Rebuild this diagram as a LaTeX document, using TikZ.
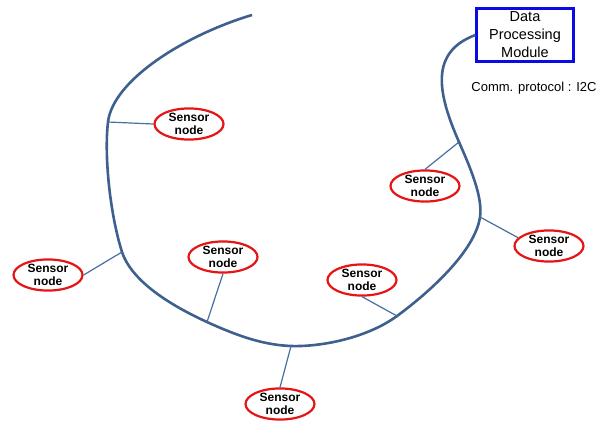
\documentclass[tikz,border=0pt]{standalone}
\usepackage{fontspec}
\setmainfont{Liberation Sans}
\usepackage{tikz}
\usetikzlibrary{shapes.geometric}

\definecolor{busblue}{RGB}{62,96,142}
\definecolor{tapblue}{RGB}{72,110,160}
\definecolor{boxblue}{RGB}{10,10,230}
\definecolor{nodered}{RGB}{230,20,20}

\tikzset{
	sensor/.style={ellipse,draw=nodered,line width=2.2pt,minimum width=69pt,minimum height=31pt,inner sep=0pt,font=\fontsize{12}{13.5}\selectfont\bfseries,align=center},
	tap/.style={draw=tapblue,line width=1.2pt},
	bus/.style={draw=busblue,line width=2.6pt}
}

\begin{document}
\begin{tikzpicture}[x=1pt,y=-1pt]
	\useasboundingbox (0,0) rectangle (612,423);

	%the module
	\node[draw=boxblue,line width=2.2pt,minimum width=97pt,minimum height=53pt,inner sep=0pt,align=center,font=\fontsize{14.5}{18}\selectfont] (dpm) at (525,35) {Data\\Processing\\Module};
	\node[font=\fontsize{13}{15}\selectfont] (proto) at (534,88) {Comm. protocol : I2C};

	%taps on the bus
	\coordinate (top) at (252,15);
	\coordinate (j1) at (108,122);
	\coordinate (j2) at (122,252);
	\coordinate (j3) at (207,322);
	\coordinate (j4) at (291,346);
	\coordinate (j5) at (397,316);
	\coordinate (j6) at (480,217);
	\coordinate (j7) at (459,142);

	%the bus
	\draw[bus] (top) .. controls (185,35) and (113,80) .. (j1)
		.. controls (104,156) and (110,214) .. (j2)
		.. controls (132,282) and (172,306) .. (j3)
		.. controls (242,338) and (266,345) .. (j4)
		.. controls (321,347) and (367,338) .. (j5)
		.. controls (427,294) and (475,252) .. (j6)
		.. controls (483,197) and (470,167) .. (j7)
		.. controls (437,92) and (430,52) .. (dpm.west);

	%sensor nodes
	\node[sensor] (s1) at (189,124) {Sensor\\node};
	\node[sensor] (s2) at (48,275) {Sensor\\node};
	\node[sensor] (s3) at (223,257) {Sensor\\node};
	\node[sensor] (s4) at (280,404) {Sensor\\node};
	\node[sensor] (s5) at (362,280) {Sensor\\node};
	\node[sensor] (s6) at (425,186) {Sensor\\node};
	\node[sensor] (s7) at (549,246) {Sensor\\node};

	\draw[tap] (j1) -- (s1.west);
	\draw[tap] (j2) -- (s2.east);
	\draw[tap] (j3) -- (s3.south);
	\draw[tap] (j4) -- (s4.north);
	\draw[tap] (j5) -- (s5.south);
	\draw[tap] (j6) -- (s7.165);
	\draw[tap] (j7) -- (s6.north);
\end{tikzpicture}
\end{document}
